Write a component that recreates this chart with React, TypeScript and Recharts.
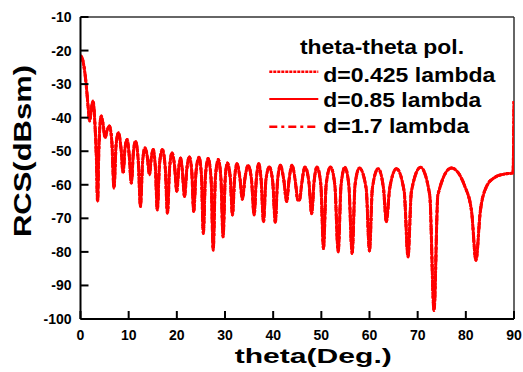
import React from 'react';
import { LineChart, Line, XAxis, YAxis, Legend, ReferenceLine } from 'recharts';

const FONT = '"Liberation Sans", Arial, sans-serif';

// theta (deg) sample positions
const theta = [
  0, 0.4, 0.9, 1.3, 1.6, 1.9, 2.2, 2.6, 3.0, 3.3, 3.55, 3.8, 4.05, 4.3, 4.7, 5.1, 5.5, 6.0, 6.5, 6.95,
  7.4, 7.9, 8.4, 8.85, 9.25, 9.7, 10.1, 10.55, 11.0, 11.4, 12.0, 12.45, 12.9, 13.4, 13.9, 14.3, 14.7, 15.1,
  15.55, 15.95, 16.4, 17.0, 17.6, 18.05, 18.5, 19.0, 19.5, 20.0, 20.4, 20.8, 21.1, 21.6, 22.1, 22.6, 23.1,
  23.5, 24.0, 24.6, 25.1, 25.5, 25.95, 26.5, 27.1, 27.55, 28.0, 28.6, 29.15, 29.6, 30.05, 30.5, 31.1, 31.55,
  32.0, 32.5, 33.1, 33.6, 34.2, 34.8, 35.5, 36.05, 36.5, 37.0, 37.5, 38.0, 38.5, 39.2, 39.9, 40.45, 40.9,
  41.5, 42.2, 42.8, 43.3, 43.9, 44.6, 44.85, 45.05, 45.5, 45.9, 46.6, 47.4, 48.0, 48.5, 49.1, 49.9, 50.45,
  51.0, 51.9, 52.8, 53.5, 54.1, 54.9, 55.7, 56.4, 57.0, 57.9, 59.3, 60.0, 60.6, 61.8, 62.9, 63.5, 64.2,
  65.6, 67.2, 68.0, 68.7, 70.6, 72.5, 73.4, 74.2, 77.0, 79.8, 81.2, 82.1, 83.0, 84.3, 86.0, 88.0, 89.8, 90,
];

// RCS (dBsm); the three spacings coincide
const rcs085 = [
  -21.5, -22.5, -26.5, -32, -37, -41, -38, -35, -42, -52, -65, -50, -42, -39.5, -42, -46, -44, -42.5, -47, -61,
  -48, -44.5, -49, -56.5, -49, -46.5, -51, -59.5, -50, -47, -53, -66.5, -53, -49, -52, -57, -52, -49.5,
  -55, -67.5, -54, -49.5, -55, -68.5, -55, -50.5, -54, -62, -55, -52, -55, -63.5, -55, -51.7, -56,
  -68, -56, -51.8, -57, -74.5, -57, -52.2, -58, -79.5, -58, -52.5, -58, -75.5, -58, -53.5, -58, -69,
  -58, -53.7, -58, -64.3, -57.5, -54.2, -58.5, -69, -58.5, -53.7, -58.5, -71, -58.5, -54.7, -59, -71.2, -59,
  -54.2, -58.5, -65, -58.5, -54.2, -59, -62, -64.5, -64.5, -60, -54.7, -59, -68.6, -59, -54.7, -60, -79,
  -60, -54.7, -60, -80, -60, -54.8, -60, -80.5, -60, -55, -61, -79.7, -61, -55.2, -61, -71, -61,
  -55.2, -62, -81.5, -62, -54.8, -63, -97.5, -63, -55, -60.5, -68, -82.5, -68, -60.5, -57.8, -56.8, -56.5, -35,
];
const rcs0425 = rcs085;
const rcs17 = rcs085;

const xTicks = [0, 10, 20, 30, 40, 50, 60, 70, 80, 90];
const yTicks = [-100, -90, -80, -70, -60, -50, -40, -30, -20, -10];

const legendTitle = 'theta-theta pol.';
const seriesNames = ['d=0.425 lambda', 'd=0.85 lambda', 'd=1.7 lambda'];

const data = theta.map((t, i) => ({ theta: t, a: rcs0425[i], b: rcs085[i], c: rcs17[i] }));

const XTick = (props: any) => {
  const { x, y, payload } = props;
  return (
    <g>
      <line x1={x} x2={x} y1={y} y2={y - 8} stroke="#000" strokeWidth={2} />
      <text x={x} y={y + 20.5} textAnchor="middle" fontSize={14} fontWeight="bold" fontFamily={FONT} fill="#000">
        {payload.value}
      </text>
    </g>
  );
};

const YTick = (props: any) => {
  const { x, y, payload } = props;
  return (
    <g>
      <line x1={x} x2={x + 8} y1={y} y2={y} stroke="#000" strokeWidth={2} />
      <text x={x - 9} y={y + 5} textAnchor="end" fontSize={14} fontWeight="bold" fontFamily={FONT} fill="#000">
        {payload.value}
      </text>
    </g>
  );
};

const XLabel = (props: any) => {
  const vb = props.viewBox || { x: 80.5, y: 319, width: 433.5 };
  return (
    <text x={vb.x + vb.width / 2 + 16} y={vb.y + 44} textAnchor="middle" fontSize={21} fontWeight="bold"
      fontFamily={FONT} fill="#000" textLength={157} lengthAdjust="spacingAndGlyphs">
      theta(Deg.)
    </text>
  );
};

const YLabel = () => (
  <text x={30.5} y={151} transform="rotate(-90 30.5 151)" textAnchor="middle" fontSize={24} fontWeight="bold"
    fontFamily={FONT} fill="#000" textLength={172} lengthAdjust="spacingAndGlyphs">
    RCS(dBsm)
  </text>
);

const dashes = ['3 1', undefined, '8 4 3 4'];
const widths = [2.5, 2, 2.5];
const textLens = [172, 158, 146];

const LegendBox = () => (
  <svg width={255} height={110} style={{ display: 'block', overflow: 'visible' }}>
    <text x={122} y={24.3} textAnchor="middle" fontSize={21} fontWeight="bold" fontFamily={FONT} fill="#000"
      textLength={164} lengthAdjust="spacingAndGlyphs">
      {legendTitle}
    </text>
    {seriesNames.map((n, i) => {
      const ly = [41.7, 69, 96.7][i];
      const ty = [51.7, 77.3, 103.3][i];
      return (
        <g key={n}>
          <line x1={9.3} x2={58.3} y1={ly} y2={ly} stroke="#ff0000" strokeWidth={widths[i]}
            strokeDasharray={dashes[i]} />
          <text x={63.3} y={ty} fontSize={21} fontWeight="bold" fontFamily={FONT} fill="#000"
            textLength={textLens[i]} lengthAdjust="spacingAndGlyphs">
            {n}
          </text>
        </g>
      );
    })}
  </svg>
);

export default function App() {
  return (
    <div style={{ position: 'absolute', left: 0, top: 0, width: 523, height: 372, background: '#fff' }}>
      <LineChart width={523} height={372} data={data} margin={{ top: 17, right: 9, bottom: 0, left: 0 }}>
        <XAxis dataKey="theta" type="number" domain={[0, 90]} ticks={xTicks} interval={0} height={53}
          tickSize={0} tickMargin={0} tickLine={false} axisLine={{ stroke: '#000', strokeWidth: 2 }}
          tick={<XTick />} label={<XLabel />} allowDataOverflow />
        <YAxis type="number" domain={[-100, -10]} ticks={yTicks} interval={0} width={80.5}
          tickSize={0} tickMargin={0} tickLine={false} axisLine={{ stroke: '#000', strokeWidth: 2 }}
          tick={<YTick />} label={<YLabel />} allowDataOverflow />
        <ReferenceLine y={-10} stroke="#333" strokeWidth={1.5} />
        <ReferenceLine x={90} stroke="#333" strokeWidth={1.5} />
        <Line type="monotone" dataKey="a" name={seriesNames[0]} stroke="#ff0000" strokeWidth={3}
          strokeDasharray="3 1" dot={false} isAnimationActive={false} />
        <Line type="monotone" dataKey="b" name={seriesNames[1]} stroke="#ff0000" strokeWidth={2.5}
          dot={false} isAnimationActive={false} />
        <Line type="monotone" dataKey="c" name={seriesNames[2]} stroke="#ff0000" strokeWidth={3}
          strokeDasharray="8 4 3 4" dot={false} isAnimationActive={false} />
        <Legend layout="horizontal" verticalAlign="middle" align="center" content={<LegendBox />}
          wrapperStyle={{ left: 260, top: 30, width: 255, height: 110 }} />
      </LineChart>
    </div>
  );
}
